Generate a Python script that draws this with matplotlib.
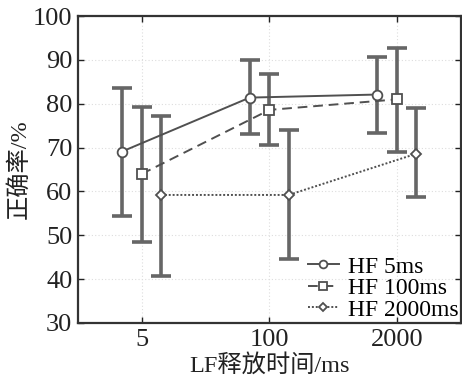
import matplotlib
matplotlib.use("Agg")
import matplotlib.pyplot as plt
import numpy as np

categories = ["5", "100", "2000"]
series = ["HF 5ms", "HF 100ms", "HF 2000ms"]
means_5 = [69.1, 81.4, 82.1]
upper_5 = [83.5, 90.0, 90.7]
lower_5 = [54.4, 73.0, 73.4]
means_100 = [64.0, 78.6, 81.0]
upper_100 = [79.3, 86.8, 92.8]
lower_100 = [48.4, 70.6, 69.1]
means_2000 = [59.2, 59.2, 68.6]
upper_2000 = [77.1, 73.9, 79.1]
lower_2000 = [40.7, 44.5, 58.7]

fams = ['Liberation Serif', 'Noto Sans CJK SC']
plt.rcParams['font.family'] = fams

fig = plt.figure(figsize=(4.62, 3.82), dpi=100)
ax = fig.add_axes([0.1688, 0.1545, 0.829, 0.8035])

x = np.arange(len(categories))
offsets = [-0.155, 0.0, 0.15]
data = [(means_5, upper_5, lower_5), (means_100, upper_100, lower_100), (means_2000, upper_2000, lower_2000)]
styles = ['-', (0, (5, 3)), (0, (1, 1))]
markers = ['o', 's', 'D']
msizes = [7, 7, 5]
for i, (m, u, l) in enumerate(data):
    m = np.array(m); u = np.array(u); l = np.array(l)
    xs = x + offsets[i]
    ax.errorbar(xs, m, yerr=[m - l, u - m], fmt='none', ecolor='#666666',
                elinewidth=2.6, capsize=7, capthick=2.6, zorder=2)
    ax.plot(xs, m, linestyle=styles[i], color='#505050', lw=1.4, zorder=3,
            marker=markers[i], markersize=msizes[i], markerfacecolor='white',
            markeredgecolor='#505050', markeredgewidth=1.3, label=series[i])

ax.set_xlim(-0.5, 2.5)
ax.set_ylim(30, 100)
ax.set_xticks(x)
ax.set_xticklabels(categories)
ax.set_yticks(np.arange(30, 101, 10))
ax.tick_params(direction='in', top=True, right=True, labelsize=19, length=4, width=1,
               colors='#222222', pad=4)
ax.grid(True, linestyle=(0, (1, 2)), color='#dddddd', lw=0.8)
for s in ax.spines.values():
    s.set_linewidth(1.6)
    s.set_color('#333333')

ax.set_xlabel('LF释放时间/ms', fontsize=17.5, family=fams, labelpad=2, color='#222222')
ax.set_ylabel('正确率/%', fontsize=17.5, family=fams, labelpad=2, color='#222222')

leg = ax.legend(loc='lower right', frameon=False, fontsize=17, handlelength=1.3,
                handletextpad=0.4, labelspacing=0.0, borderaxespad=0.0, borderpad=0.1,
                markerscale=0.8)

fig.savefig('out.png', dpi=100)
